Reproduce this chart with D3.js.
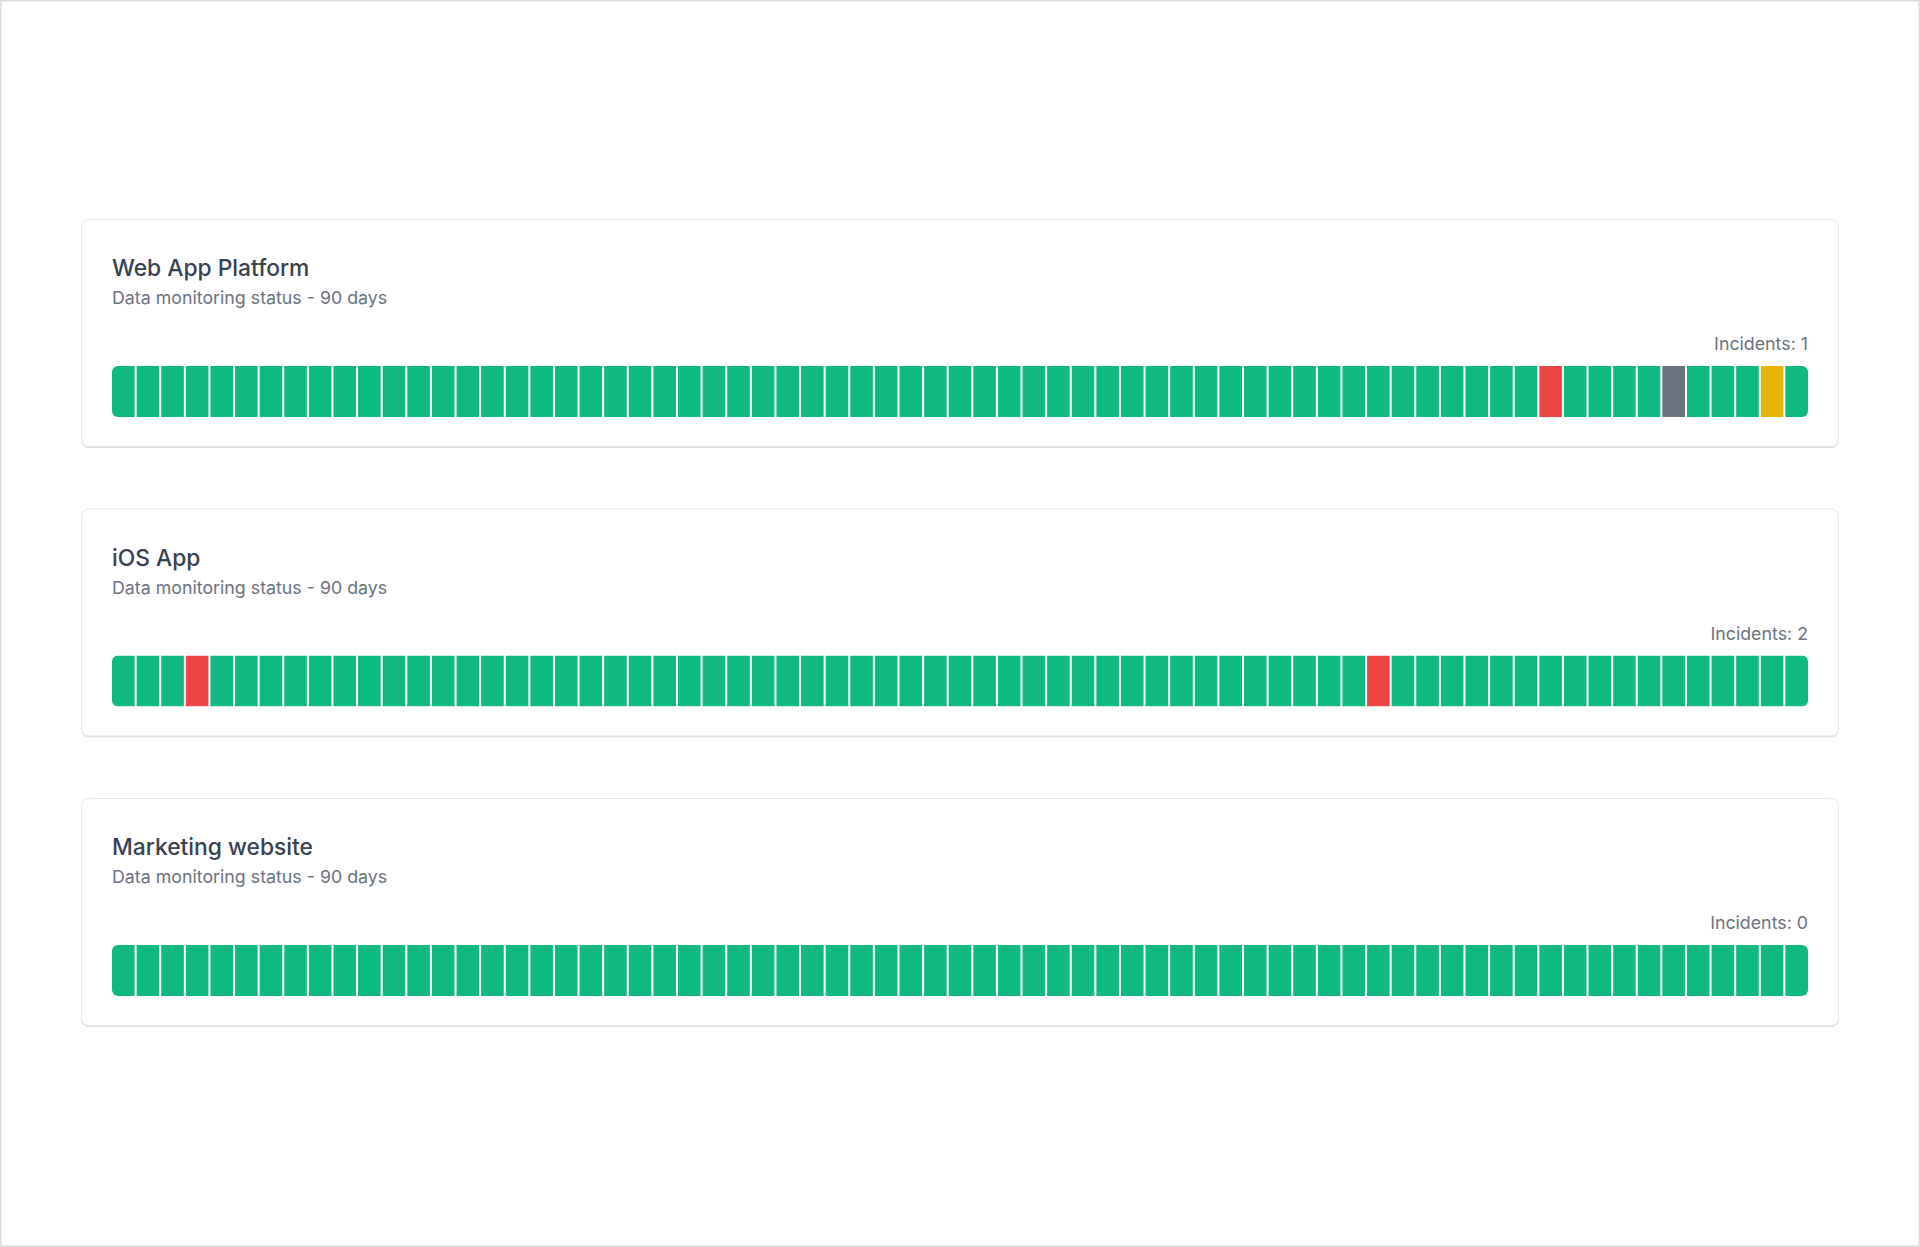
<!DOCTYPE html>
<html>
<head>
<meta charset="utf-8">
<script src="https://cdn.jsdelivr.net/npm/d3@7"></script>
<style>
  html, body { margin: 0; padding: 0; background: #fff; }
  svg { display: block; font-family: Inter, "Noto Sans", sans-serif; }
</style>
</head>
<body>
<div id="tracker"></div>
<script>
// monitors shown, one card each
const monitors = ["Web App Platform", "iOS App", "Marketing website"];
const subtitles = ["Data monitoring status - 90 days", "Data monitoring status - 90 days", "Data monitoring status - 90 days"];
const incidents = [1, 2, 0];

// daily status (up / down / maintenance / degraded)
const webAppStatus = [
  "up","up","up","up","up","up","up","up","up","up",
  "up","up","up","up","up","up","up","up","up","up",
  "up","up","up","up","up","up","up","up","up","up",
  "up","up","up","up","up","up","up","up","up","up",
  "up","up","up","up","up","up","up","up","up","up",
  "up","up","up","up","up","up","up","up","down","up",
  "up","up","up","maintenance","up","up","up","degraded","up"
];
const iosStatus = [
  "up","up","up","down","up","up","up","up","up","up",
  "up","up","up","up","up","up","up","up","up","up",
  "up","up","up","up","up","up","up","up","up","up",
  "up","up","up","up","up","up","up","up","up","up",
  "up","up","up","up","up","up","up","up","up","up",
  "up","down","up","up","up","up","up","up","up","up",
  "up","up","up","up","up","up","up","up","up"
];
const marketingStatus = [
  "up","up","up","up","up","up","up","up","up","up",
  "up","up","up","up","up","up","up","up","up","up",
  "up","up","up","up","up","up","up","up","up","up",
  "up","up","up","up","up","up","up","up","up","up",
  "up","up","up","up","up","up","up","up","up","up",
  "up","up","up","up","up","up","up","up","up","up",
  "up","up","up","up","up","up","up","up","up"
];
const statusSeries = [webAppStatus, iosStatus, marketingStatus];

const statusKeys = ["up", "down", "maintenance", "degraded"];
const statusColors = ["#10b981", "#ef4444", "#6b7280", "#eab308"];

const W = 1920, H = 1247;
const card = { x: 81, y0: 219, w: 1757, h: 227, step: 289.5, pad: 31 };

const color = d3.scaleOrdinal().domain(statusKeys).range(statusColors);

const svg = d3.select("#tracker").append("svg")
  .attr("width", W)
  .attr("height", H);

// page frame
svg.append("rect")
  .attr("x", 0.75).attr("y", 0.75)
  .attr("width", W - 1.5).attr("height", H - 1.5)
  .attr("fill", "#fff")
  .attr("stroke", "#dedede")
  .attr("stroke-width", 1.5);

const trackW = 1696;

monitors.forEach((name, k) => {
  const data = statusSeries[k];
  const g = svg.append("g")
    .attr("transform", "translate(" + card.x + "," + (card.y0 + k * card.step) + ")");

  // soft bottom shadow + card
  g.append("rect")
    .attr("x", 0.5).attr("y", 2)
    .attr("width", card.w).attr("height", card.h)
    .attr("rx", 7)
    .attr("fill", "#dfe1e6");
  g.append("rect")
    .attr("x", 0.5).attr("y", 0.5)
    .attr("width", card.w).attr("height", card.h)
    .attr("rx", 7)
    .attr("fill", "#fff")
    .attr("stroke", "#e5e7eb");

  g.append("text")
    .attr("x", card.pad).attr("y", 57)
    .attr("fill", "#374151")
    .style("font-size", "22.8px")
    .style("font-weight", 500)
    .text(name);

  g.append("text")
    .attr("x", card.pad).attr("y", 85)
    .attr("fill", "#6b7280")
    .style("font-size", "17.8px")
    .text(subtitles[k]);

  g.append("text")
    .attr("x", card.pad + trackW).attr("y", 131)
    .attr("text-anchor", "end")
    .attr("fill", "#6b7280")
    .style("font-size", "17.8px")
    .text("Incidents: " + incidents[k]);

  const x = d3.scaleBand()
    .domain(d3.range(data.length))
    .range([0, trackW])
    .paddingInner(0.082)
    .paddingOuter(0);

  const clipId = "track-clip-" + k;
  g.append("clipPath")
    .attr("id", clipId)
    .append("rect")
    .attr("x", 0).attr("y", 0)
    .attr("width", trackW).attr("height", 51)
    .attr("rx", 6);

  g.append("g")
    .attr("transform", "translate(" + card.pad + ",147)")
    .attr("clip-path", "url(#" + clipId + ")")
    .selectAll("rect")
    .data(data)
    .join("rect")
      .attr("x", (d, i) => x(i))
      .attr("y", 0)
      .attr("width", x.bandwidth())
      .attr("height", 51)
      .attr("fill", d => color(d));
});
</script>
</body>
</html>
